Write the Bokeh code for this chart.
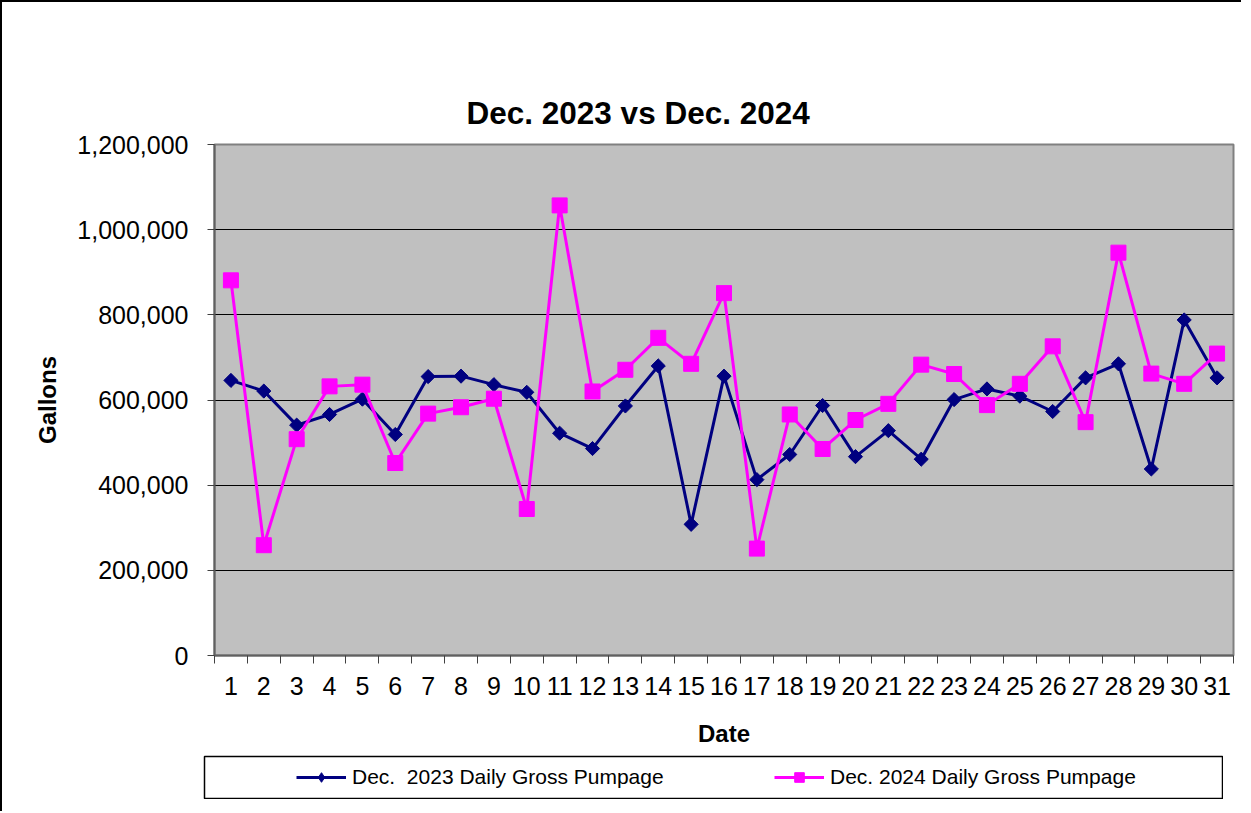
import math
from bokeh.plotting import figure
from bokeh.layouts import column, row
from bokeh.models import (FixedTicker, NumeralTickFormatter, Legend, LegendItem,
                          Range1d, Title, Spacer)
from bokeh.embed import file_html
from bokeh.resources import INLINE

days = list(range(1, 32))
day_labels = [str(d) for d in days]
pump_2023 = [646000, 621000, 541000, 566000, 602000, 519000, 655000, 656000, 636000, 618000,
             522000, 486000, 586000, 680000, 308000, 656000, 413000, 472000, 587000, 467000,
             528000, 461000, 601000, 626000, 609000, 573000, 652000, 685000, 438000, 788000,
             652000]
pump_2024 = [881000, 259000, 508000, 632000, 636000, 452000, 568000, 583000, 603000, 344000,
             1057000, 620000, 671000, 746000, 685000, 851000, 251000, 566000, 485000, 553000,
             591000, 683000, 661000, 588000, 638000, 726000, 548000, 946000, 662000, 638000,
             709000]
y_ticks = [0, 200000, 400000, 600000, 800000, 1000000, 1200000]
title_text = "Dec. 2023 vs Dec. 2024"
label_2023 = "Dec.  2023 Daily Gross Pumpage"
label_2024 = "Dec. 2024 Daily Gross Pumpage"

FONT = "Liberation Sans"
NAVY = "#000080"
MAG = "#FF00FF"

p = figure(width=1239, height=753,
           x_range=Range1d(0.5, 31.5), y_range=Range1d(0, 1200000),
           output_backend="svg", toolbar_location=None,
           min_border_left=212, min_border_top=142, min_border_right=8,
           min_border_bottom=100,
           background_fill_color="#C0C0C0", border_fill_color="white")

p.title = Title(text=title_text, align="left", offset=252, text_font=FONT,
                text_font_size="31.5px", text_font_style="bold", text_color="black",
                standoff=28)

p.outline_line_color = "#808080"
p.outline_line_width = 2

# x axis
p.xaxis.ticker = FixedTicker(ticks=days, minor_ticks=[d - 0.5 for d in days] + [31.5])
p.xaxis.major_label_overrides = {d: l for d, l in zip(days, day_labels)}
p.xaxis.major_tick_out = 0
p.xaxis.major_tick_in = 0
p.xaxis.minor_tick_out = 8
p.xaxis.minor_tick_in = 0
p.xaxis.minor_tick_line_color = "#404040"
p.xaxis.axis_line_color = "#606060"
p.xaxis.axis_line_width = 2
p.xaxis.major_label_text_font = FONT
p.xaxis.major_label_text_font_size = "25px"
p.xaxis.major_label_text_color = "black"
p.xaxis.major_label_standoff = 13
p.xaxis.axis_label = "Date"
p.xaxis.axis_label_text_font = FONT
p.xaxis.axis_label_text_font_size = "24px"
p.xaxis.axis_label_text_font_style = "bold"
p.xaxis.axis_label_text_color = "black"
p.xaxis.axis_label_standoff = 22

# y axis
p.yaxis.ticker = FixedTicker(ticks=y_ticks)
p.yaxis.formatter = NumeralTickFormatter(format="0,0")
p.yaxis.major_tick_out = 7
p.yaxis.major_tick_in = 0
p.yaxis.minor_tick_out = 0
p.yaxis.minor_tick_in = 0
p.yaxis.major_tick_line_color = "#404040"
p.yaxis.axis_line_color = "#606060"
p.yaxis.axis_line_width = 2
p.yaxis.major_label_text_font = FONT
p.yaxis.major_label_text_font_size = "25px"
p.yaxis.major_label_text_color = "black"
p.yaxis.major_label_standoff = 19
p.yaxis.axis_label = "Gallons"
p.yaxis.axis_label_text_font = FONT
p.yaxis.axis_label_text_font_size = "24px"
p.yaxis.axis_label_text_font_style = "bold"
p.yaxis.axis_label_text_color = "black"
p.yaxis.axis_label_standoff = 13

p.xgrid.visible = False
p.ygrid.ticker = FixedTicker(ticks=y_ticks)
p.ygrid.grid_line_color = "black"
p.ygrid.grid_line_width = 1

p.line(days, pump_2023, line_color=NAVY, line_width=3)
p.scatter(days, pump_2023, marker="square", angle=math.pi / 4, size=10,
          fill_color=NAVY, line_color=NAVY)
p.line(days, pump_2024, line_color=MAG, line_width=3)
p.scatter(days, pump_2024, marker="square", size=15,
          fill_color=MAG, line_color=MAG)

# legend box as its own small figure below the chart
lg = figure(width=1020, height=44, x_range=Range1d(0, 1), y_range=Range1d(0, 1),
            output_backend="svg", toolbar_location=None,
            x_axis_type=None, y_axis_type=None, min_border=1,
            background_fill_color="white", border_fill_color="white")
lg.grid.visible = False
lg.outline_line_color = "black"
lg.outline_line_width = 1.5
# key renderers: a single point placed outside the visible range (only the legend shows them)
off = [-10]
k1l = lg.line(off, off, line_color=NAVY, line_width=3)
k1s = lg.scatter(off, off, marker="diamond", size=13,
                 fill_color=NAVY, line_color=NAVY)
k2l = lg.line(off, off, line_color=MAG, line_width=3)
k2s = lg.scatter(off, off, marker="square", size=11, fill_color=MAG, line_color=MAG)

legend = Legend(items=[LegendItem(label=label_2023, renderers=[k1l, k1s]),
                       LegendItem(label=label_2024, renderers=[k2l, k2s])],
                orientation="horizontal", location=(92, 9), padding=0,
                spacing=12, glyph_width=50, glyph_height=24, label_width=410,
                label_height=24, label_standoff=6, label_text_font=FONT,
                label_text_font_size="21px", label_text_color="black",
                border_line_color=None, background_fill_alpha=0, margin=0)
lg.add_layout(legend)

layout = column(p, row(Spacer(width=201, height=44), lg), Spacer(width=10, height=12))
layout.styles = {"border-top": "2px solid black", "border-left": "2px solid black"}

open("out.html", "w").write(file_html(layout, INLINE))
